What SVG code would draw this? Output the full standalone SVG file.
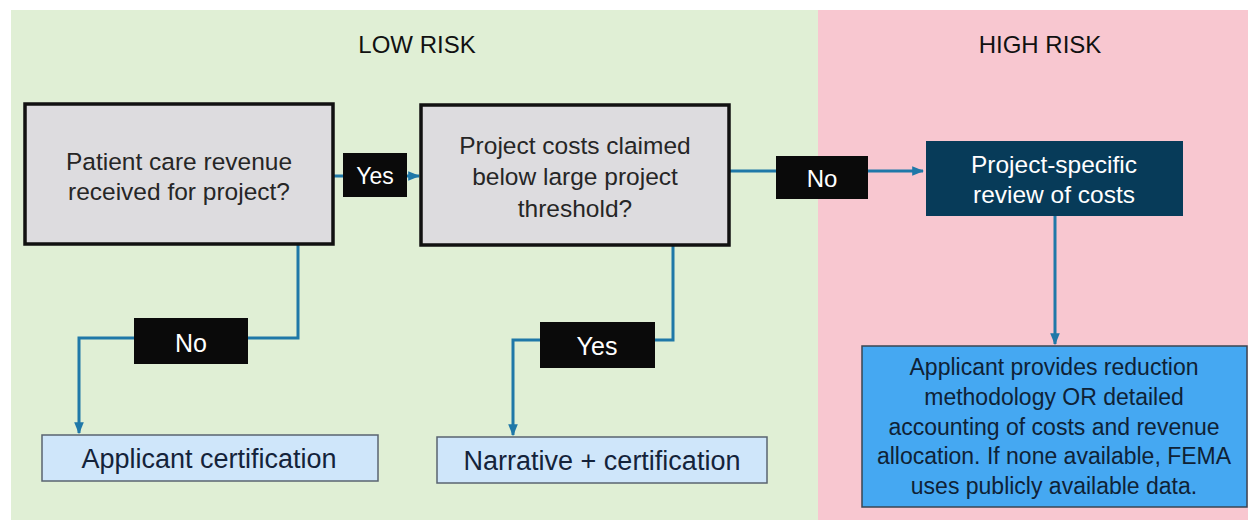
<svg xmlns="http://www.w3.org/2000/svg" width="1254" height="520" viewBox="0 0 1254 520">
<defs>
<marker id="arr" viewBox="0 0 10 10" refX="9" refY="5" markerWidth="4" markerHeight="4" orient="auto" markerUnits="strokeWidth">
<path d="M0,1 L10,5 L0,9 z" fill="#1f78a8"/>
</marker>
<style>
.t{font-family:"Liberation Sans",Arial,sans-serif;text-anchor:middle}
.head{font-size:24px;fill:#111}
.q{font-size:24.5px;fill:#262626}
.lab{font-size:23px;fill:#fff}
.out{font-size:27px;fill:#14233a}
.hi{font-size:23px;fill:#0f2236}
.conn{fill:none;stroke:#1f78a8;stroke-width:3}
.qbox{fill:#dddcdf;stroke:#111;stroke-width:3.5}
.lbox{fill:#0a0a0a}
.obox{fill:#cfe6fa;stroke:#5a6470;stroke-width:1.5}
</style>
</defs>
<rect x="0" y="0" width="1254" height="520" fill="#fff"/>
<rect x="11" y="10" width="807" height="510" fill="#e0efd5"/>
<rect x="818" y="10" width="430" height="510" fill="#f8c7d0"/>
<text class="t head" x="417" y="53">LOW RISK</text>
<text class="t head" x="1040" y="53">HIGH RISK</text>

<g id="connectors">
<path class="conn" d="M333,176 L419,176" marker-end="url(#arr)"/>
<path class="conn" d="M729,171 L923,171" marker-end="url(#arr)"/>
<path class="conn" d="M1055,216 L1055,344" marker-end="url(#arr)"/>
<path class="conn" d="M298,244 L298,338 L79,338 L79,433" marker-end="url(#arr)"/>
<path class="conn" d="M673,245 L673,340 L513,340 L513,435" marker-end="url(#arr)"/>
</g>

<g id="q1">
<rect class="qbox" x="25" y="104" width="308" height="140"/>
<text class="t q" x="179" y="170">Patient care revenue</text>
<text class="t q" x="179" y="200">received for project?</text>
</g>
<g id="yes1">
<rect class="lbox" x="343" y="153" width="64" height="44"/>
<text class="t lab" x="375" y="184">Yes</text>
</g>
<g id="q2">
<rect class="qbox" x="421" y="105" width="308" height="140"/>
<text class="t q" x="575" y="154">Project costs claimed</text>
<text class="t q" x="575" y="185">below large project</text>
<text class="t q" x="575" y="217">threshold?</text>
</g>
<g id="no1">
<rect class="lbox" x="776" y="156" width="92" height="43"/>
<text class="t lab" x="822" y="187" style="font-size:24px">No</text>
</g>
<g id="review">
<rect x="926" y="141" width="257" height="75" fill="#073b59"/>
<text class="t lab" x="1054" y="173" style="font-size:24.5px">Project-specific</text>
<text class="t lab" x="1054" y="203" style="font-size:24.5px">review of costs</text>
</g>
<g id="no2">
<rect class="lbox" x="134" y="318" width="114" height="46"/>
<text class="t lab" x="191" y="352" style="font-size:25px">No</text>
</g>
<g id="yes2">
<rect class="lbox" x="540" y="322" width="115" height="46"/>
<text class="t lab" x="597" y="355" style="font-size:25px">Yes</text>
</g>
<g id="cert">
<rect class="obox" x="42" y="435" width="336" height="46"/>
<text class="t out" x="209" y="468">Applicant certification</text>
</g>
<g id="narr">
<rect class="obox" x="437" y="437" width="330" height="46"/>
<text class="t out" x="602" y="470">Narrative + certification</text>
</g>
<g id="detail">
<rect x="862" y="346" width="385" height="161" fill="#45a8f2" stroke="#3a4652" stroke-width="1.5"/>
<text class="t hi" x="1054" y="375">Applicant provides reduction</text>
<text class="t hi" x="1054" y="405">methodology OR detailed</text>
<text class="t hi" x="1054" y="435">accounting of costs and revenue</text>
<text class="t hi" x="1054" y="464">allocation. If none available, FEMA</text>
<text class="t hi" x="1054" y="494">uses publicly available data.</text>
</g>
</svg>
